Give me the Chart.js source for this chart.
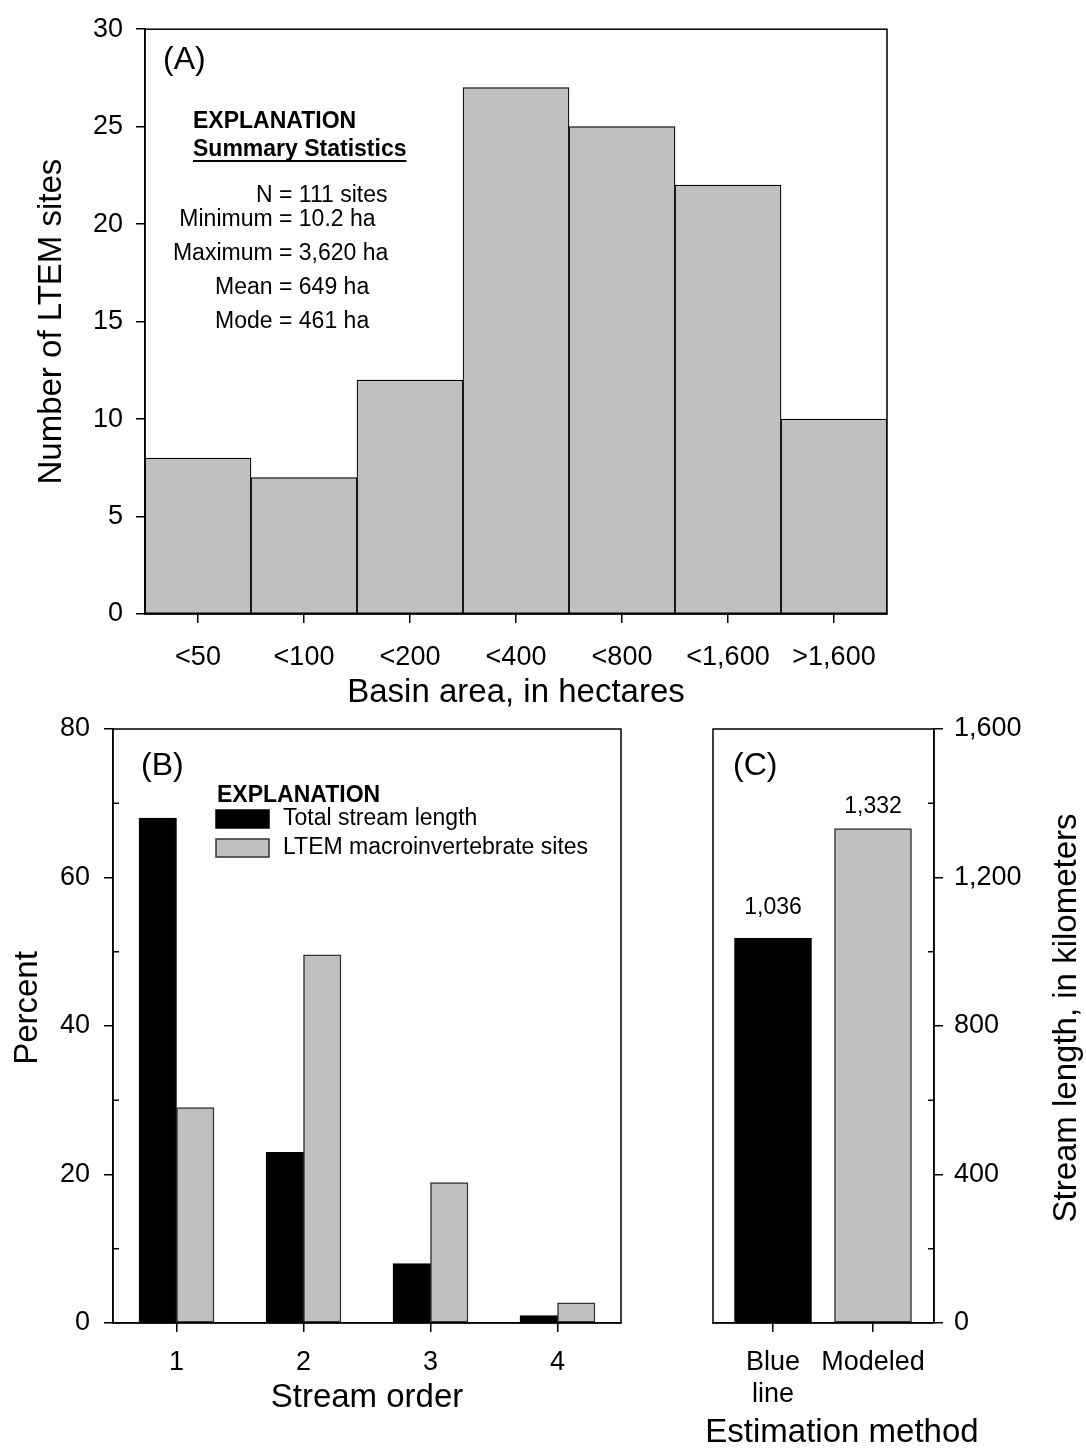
<!DOCTYPE html>
<html>
<head>
<meta charset="utf-8">
<script src="https://cdn.jsdelivr.net/npm/chart.js@4.4.0/dist/chart.umd.min.js"></script>
<style>
  html, body { margin: 0; padding: 0; background: #fff; }
  #wrap { position: relative; width: 1086px; height: 1449px; }
  #wrap canvas { position: absolute; left: 0; top: 0; }
</style>
</head>
<body>
<div id="wrap">
  <canvas id="chartA" width="1086" height="1449"></canvas>
  <canvas id="chartB" width="1086" height="1449"></canvas>
  <canvas id="chartC" width="1086" height="1449"></canvas>
</div>
<script>
// (A) basin area histogram
const basinBins = ['<50', '<100', '<200', '<400', '<800', '<1,600', '>1,600'];
const siteCounts = [8, 7, 12, 27, 25, 22, 10];
const summaryStats = [
  ['N', '111 sites'],
  ['Minimum', '10.2 ha'],
  ['Maximum', '3,620 ha'],
  ['Mean', '649 ha'],
  ['Mode', '461 ha']
];

// (B) stream order
const streamOrders = ['1', '2', '3', '4'];
const pctStreamLength = [68, 23, 8, 1];
const pctLtemSites = [29, 49.6, 18.9, 2.7];

// (C) estimation method
const methods = [['Blue', 'line'], 'Modeled'];
const methodLengths = [1036, 1332];

const GRAY = '#c0c0c0';
const FONT = "'Liberation Sans', Arial, Helvetica, sans-serif";
const TICK = 27, TITLE = 33;

Chart.defaults.font.family = FONT;
Chart.defaults.color = '#000';
Chart.defaults.plugins.legend.display = false;
Chart.defaults.plugins.tooltip.enabled = false;

const grid = () => ({
  display: true, drawOnChartArea: false, drawTicks: true, offset: false,
  tickLength: 9, tickWidth: 1.5, tickColor: '#000', color: '#000', lineWidth: 1.5
});
const border = { display: true, color: '#000', width: 1.5 };

function txt(ctx, s, x, y, size, opts = {}) {
  ctx.save();
  ctx.font = (opts.bold ? 'bold ' : '') + size + 'px ' + FONT;
  ctx.fillStyle = '#000';
  ctx.textAlign = opts.align || 'left';
  ctx.textBaseline = 'middle';
  if (opts.rot) { ctx.translate(x, y); ctx.rotate(opts.rot); x = 0; y = 0; }
  ctx.fillText(s, x, y);
  ctx.restore();
}

const frame = {
  id: 'frame',
  afterDraw(chart) {
    const { ctx, chartArea: a } = chart;
    ctx.save();
    ctx.strokeStyle = '#000';
    ctx.lineWidth = 1.5;
    ctx.strokeRect(a.left, a.top, a.right - a.left, a.bottom - a.top);
    ctx.restore();
  }
};

// small inward ticks between the labelled ones
function minorTicks(values, side) {
  return {
    id: 'minor',
    afterDraw(chart) {
      const { ctx, chartArea: a, scales } = chart;
      ctx.save();
      ctx.strokeStyle = '#000';
      ctx.lineWidth = 1.5;
      values.forEach(v => {
        const y = scales.y.getPixelForValue(v);
        const x0 = side === 'left' ? a.left : a.right;
        const x1 = side === 'left' ? a.left + 6 : a.right - 6;
        ctx.beginPath(); ctx.moveTo(x0, y); ctx.lineTo(x1, y); ctx.stroke();
      });
      ctx.restore();
    }
  };
}

// ---------- panel A ----------
new Chart(document.getElementById('chartA'), {
  type: 'bar',
  data: {
    labels: basinBins,
    datasets: [{
      data: siteCounts,
      backgroundColor: GRAY, borderColor: '#000', borderWidth: 1.2, borderSkipped: false,
      barPercentage: 1, categoryPercentage: 1
    }]
  },
  options: {
    responsive: false, animation: false,
    layout: { padding: { left: 0, top: 22, right: 199, bottom: 734 } },
    scales: {
      x: {
        grid: grid(), border,
        ticks: { font: { size: TICK }, padding: 18, maxRotation: 0, autoSkip: false },
        title: { display: true, text: 'Basin area, in hectares', font: { size: TITLE }, padding: { top: 0, bottom: 2 } },
        afterFit: s => { s.height = 101; }
      },
      y: {
        min: 0, max: 30,
        grid: grid(), border,
        ticks: { stepSize: 5, font: { size: TICK }, padding: 13 },
        title: { display: true, text: 'Number of LTEM sites', font: { size: TITLE }, padding: { top: 32, bottom: 0 } },
        afterFit: s => { s.width = 145; }
      }
    }
  },
  plugins: [frame, {
    id: 'notesA',
    afterDraw(chart) {
      const ctx = chart.ctx;
      txt(ctx, '(A)', 163, 60, 32);
      txt(ctx, 'EXPLANATION', 193, 121.5, 23, { bold: true });
      txt(ctx, 'Summary Statistics', 193, 150, 23, { bold: true });
      ctx.save();
      ctx.font = 'bold 23px ' + FONT;
      const w = ctx.measureText('Summary Statistics').width;
      ctx.fillStyle = '#000';
      ctx.fillRect(193, 160, w, 2);
      ctx.restore();
      const rowY = [195.5, 220, 254, 288, 322];
      summaryStats.forEach(([k, v], i) => {
        txt(ctx, k + ' ', 279, rowY[i], 23, { align: 'right' });
        txt(ctx, '= ' + v, 279, rowY[i], 23);
      });
    }
  }]
});

// ---------- panel B ----------
new Chart(document.getElementById('chartB'), {
  type: 'bar',
  data: {
    labels: streamOrders,
    datasets: [
      {
        label: 'Total stream length', data: pctStreamLength,
        backgroundColor: '#000', borderColor: '#000', borderWidth: 1, borderSkipped: false,
        barThickness: 37.5
      },
      {
        label: 'LTEM macroinvertebrate sites', data: pctLtemSites,
        backgroundColor: GRAY, borderColor: '#333', borderWidth: 1.5, borderSkipped: false,
        barThickness: 37.5
      }
    ]
  },
  options: {
    responsive: false, animation: false,
    layout: { padding: { left: 0, top: 729, right: 465, bottom: 0 } },
    scales: {
      x: {
        grid: grid(), border,
        ticks: { font: { size: TICK }, padding: 14, maxRotation: 0 },
        title: { display: true, text: 'Stream order', font: { size: TITLE }, padding: { top: 0, bottom: 31 } },
        afterFit: s => { s.height = 126; }
      },
      y: {
        min: 0, max: 80,
        grid: grid(), border,
        ticks: { stepSize: 20, font: { size: TICK }, padding: 14 },
        afterFit: s => { s.width = 113; }
      }
    }
  },
  plugins: [frame, minorTicks([10, 30, 50, 70], 'left'), {
    id: 'notesB',
    afterDraw(chart) {
      const ctx = chart.ctx;
      txt(ctx, '(B)', 141, 766, 32);
      txt(ctx, 'Percent', 28, 1008, TITLE, { align: 'center', rot: -Math.PI / 2 });
      txt(ctx, 'EXPLANATION', 217, 796, 23, { bold: true });
      const rows = [819, 848];
      chart.data.datasets.forEach((ds, i) => {
        ctx.save();
        ctx.fillStyle = ds.backgroundColor;
        ctx.strokeStyle = ds.borderColor;
        ctx.lineWidth = 1.5;
        ctx.fillRect(216, rows[i] - 9, 53, 18);
        ctx.strokeRect(216, rows[i] - 9, 53, 18);
        ctx.restore();
        txt(ctx, ds.label, 283, rows[i], 23);
      });
    }
  }]
});

// ---------- panel C ----------
new Chart(document.getElementById('chartC'), {
  type: 'bar',
  data: {
    datasets: [{
      data: methodLengths.map((v, i) => ({ x: i, y: v })),
      backgroundColor: ['#000', GRAY], borderColor: ['#000', '#333'], borderWidth: 1.5, borderSkipped: false,
      barThickness: 77
    }]
  },
  options: {
    responsive: false, animation: false,
    layout: { padding: { left: 713, top: 729, right: 0, bottom: 0 } },
    scales: {
      x: {
        type: 'linear', min: -0.6, max: 1.61, offset: false,
        grid: grid(), border,
        afterBuildTicks: s => { s.ticks = methods.map((_, i) => ({ value: i })); },
        ticks: { font: { size: TICK }, padding: 14, maxRotation: 0, autoSkip: false, callback: v => methods[v] },
        afterFit: s => { s.height = 126; }
      },
      y: {
        position: 'right', min: 0, max: 1600,
        grid: grid(), border,
        ticks: { stepSize: 400, font: { size: TICK }, padding: 11, callback: v => v.toLocaleString('en-US') },
        afterFit: s => { s.width = 152; }
      }
    }
  },
  plugins: [frame, minorTicks([200, 600, 1000, 1400], 'right'), {
    id: 'notesC',
    afterDraw(chart) {
      const ctx = chart.ctx;
      txt(ctx, '(C)', 733, 766, 32);
      const gaps = [31, 22];
      chart.getDatasetMeta(0).data.forEach((bar, i) => {
        txt(ctx, methodLengths[i].toLocaleString('en-US'), bar.x, bar.y - gaps[i], 23, { align: 'center' });
      });
      txt(ctx, 'Stream length, in kilometers', 1067, 1018, TITLE, { align: 'center', rot: -Math.PI / 2 });
      txt(ctx, 'Estimation method', 842, 1433, TITLE, { align: 'center' });
    }
  }]
});
</script>
</body>
</html>
